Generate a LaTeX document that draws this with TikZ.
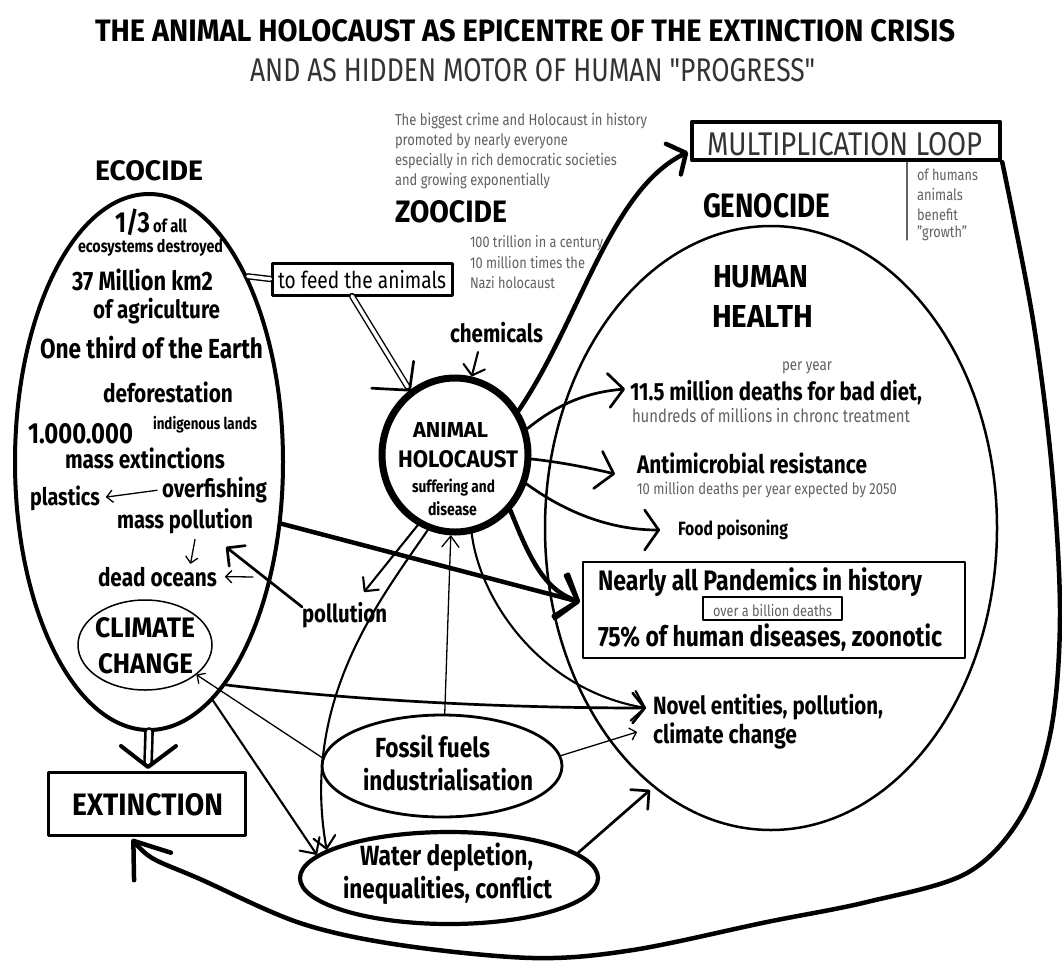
\documentclass[tikz,border=0pt]{standalone}
\usepackage{fontspec}
\setmainfont{Fira Sans}[FakeStretch=0.82]
\newfontfamily\headfont{Fira Sans}[FakeStretch=0.75]
\usetikzlibrary{shapes.geometric,arrows.meta,calc}
\definecolor{inkgrey}{gray}{0.38}
% text fitted to a given width (and optionally height)
\newcommand{\fitw}[2]{\resizebox{#1pt}{!}{#2}}
\newcommand{\fitwh}[3]{\resizebox{#1pt}{#2pt}{#3}}

\begin{document}
\begin{tikzpicture}[x=1pt,y=-1pt,line cap=round,line join=round,
  txt/.style={anchor=base west,inner sep=0pt,outer sep=0pt},
  grey/.style={txt,text=inkgrey},
  oval/.style={ellipse,draw,inner sep=0pt},
  frame/.style={rectangle,draw,inner sep=0pt},
  heavy/.style={line width=4.5pt},
  strong/.style={line width=2.7pt},
  medium/.style={line width=2.1pt},
  fine/.style={line width=1.3pt},
  twin/.style={double,double distance=3.5pt,line width=1.4pt},
  barb/.style 2 args={-{Straight Barb[length=#1pt,width=#2pt,round]}}]

\useasboundingbox (0,0) rectangle (1062,964);
\fill[white] (0,0) rectangle (1062,964);

% ---------- headings ----------
\node[txt] (title) at (95,41) {\fitwh{860}{22}{\headfont\bfseries THE ANIMAL HOLOCAUST AS EPICENTRE OF THE EXTINCTION CRISIS}};
\node[txt,text=black!80] (subtitle) at (250,81) {\fitwh{565}{23}{\headfont AND AS HIDDEN MOTOR OF HUMAN "PROGRESS"}};

% ---------- shapes ----------
\node[oval,line width=4pt,minimum width=268pt,minimum height=536pt] (eco) at (149,462) {};
\node[oval,line width=1.5pt,minimum width=134pt,minimum height=90pt] (cc) at (145,645) {};
\node[oval,line width=7pt,minimum width=146pt,minimum height=154pt] (hol) at (455,455) {};
\node[oval,line width=2.5pt,minimum width=452pt,minimum height=604pt] (gen) at (771,528) {};
\node[oval,line width=2.8pt,minimum width=240pt,minimum height=102pt] (fos) at (442,766) {};
\node[oval,line width=4.2pt,minimum width=298pt,minimum height=92pt] (wat) at (449,878) {};
\node[frame,line width=3pt,minimum width=180pt,minimum height=32pt] (feed) at (362,279) {};
\node[frame,line width=4.5pt,minimum width=308pt,minimum height=38pt] (mult) at (846,141) {};
\node[frame,line width=3pt,minimum width=197pt,minimum height=63pt] (ext) at (146.5,803.5) {};
\node[frame,line width=2.2pt,minimum width=382pt,minimum height=96pt] (pand) at (774,610) {};
\node[frame,line width=1.5pt,minimum width=139pt,minimum height=23pt] (bill) at (772.5,608.5) {};

% ---------- ecocide ----------
\node[txt] (ecohead) at (95,180) {\fitwh{108}{20}{\headfont\bfseries ECOCIDE}};
\node[txt] (third) at (115,232) {\fitw{35}{\bfseries 1/3}};
\node[txt] (ofall) at (153,232) {\fitw{34}{\bfseries of all}};
\node[txt] (ecosys) at (78,252) {\fitw{145}{\bfseries ecosystems destroyed}};
\node[txt] (km) at (72,290) {\fitw{141}{\bfseries 37 Million km2}};
\node[txt] (agri) at (93,318) {\fitw{127}{\bfseries of agriculture}};
\node[txt] (earth) at (40,358) {\fitw{223}{\bfseries One third of the Earth}};
\node[txt] (defor) at (103,402) {\fitw{130}{\bfseries deforestation}};
\node[txt] (indig) at (153,429) {\fitw{104}{\bfseries indigenous lands}};
\node[txt] (million) at (28,443) {\fitw{105}{\bfseries 1.000.000}};
\node[txt] (massext) at (65,468) {\fitw{160}{\bfseries mass extinctions}};
\node[txt] (overfish) at (162,497) {\fitw{105}{\bfseries overfishing}};
\node[txt] (plastics) at (30,505) {\fitw{70}{\bfseries plastics}};
\node[txt] (masspoll) at (117,528) {\fitw{136}{\bfseries mass pollution}};
\node[txt] (deadoc) at (98,586) {\fitw{119}{\bfseries dead oceans}};
\node[txt] (pollution) at (302,622) {\fitw{85}{\bfseries pollution}};
\node[txt] (clim) at (95,637) {\fitwh{100}{20}{\headfont\bfseries CLIMATE}};
\node[txt] (chng) at (98,673) {\fitwh{95}{20}{\headfont\bfseries CHANGE}};
\node[txt] (extword) at (72,815) {\fitwh{151}{22}{\headfont\bfseries EXTINCTION}};
\node[txt] (feedword) at (278,288) {\fitw{168}{to feed the animals}};

% ---------- zoocide ----------
\node[grey] (crime1) at (395,125) {\fitw{252}{The biggest crime and Holocaust in history}};
\node[grey] (crime2) at (395,145) {\fitw{173}{promoted by nearly everyone}};
\node[grey] (crime3) at (395,165) {\fitw{222}{especially in rich democratic societies}};
\node[grey] (crime4) at (395,185) {\fitw{155}{and growing exponentially}};
\node[txt] (zoohead) at (395,222) {\fitwh{112}{22}{\headfont\bfseries ZOOCIDE}};
\node[grey] (tril) at (470,247) {\fitw{133}{100 trillion in a century}};
\node[grey] (times) at (470,268) {\fitw{115}{10 million times the}};
\node[grey] (nazi) at (470,288) {\fitw{85}{Nazi holocaust}};

% ---------- multiplication loop ----------
\node[txt,text=black!80] (multword) at (707,155) {\fitwh{275}{23}{\headfont MULTIPLICATION LOOP}};
\node[grey] (hum) at (917,180) {\fitw{61}{of humans}};
\node[grey] (anim) at (917,200) {\fitw{46}{animals}};
\node[grey] (ben) at (917,220) {\fitw{41}{benefit}};
\node[grey] (grow) at (917,237) {\fitw{50}{"growth"}};

% ---------- genocide ----------
\node[txt] (genhead) at (703,217) {\fitwh{127}{24}{\headfont\bfseries GENOCIDE}};
\node[txt] (human) at (713,287) {\fitwh{95}{22}{\headfont\bfseries HUMAN}};
\node[txt] (health) at (712,327) {\fitwh{101}{22}{\headfont\bfseries HEALTH}};
\node[grey] (peryear) at (782,370) {\fitw{50}{per year}};
\node[txt] (diet) at (630,400) {\fitw{292}{\bfseries 11.5 million deaths for bad diet,}};
\node[grey] (chronic) at (632,422) {\fitw{278}{hundreds of millions in chronc treatment}};
\node[txt] (amr) at (637,473) {\fitw{230}{\bfseries Antimicrobial resistance}};
\node[grey] (amrnote) at (637,494) {\fitw{260}{10 million deaths per year expected by 2050}};
\node[txt] (food) at (678,535) {\fitw{110}{\bfseries Food poisoning}};
\node[txt] (pandword) at (598,590) {\fitw{324}{\bfseries Nearly all Pandemics in history}};
\node[grey] (billword) at (713,616) {\fitw{119}{over a billion deaths}};
\node[txt] (zoon) at (598,646) {\fitw{344}{\bfseries 75\% of human diseases, zoonotic}};
\node[txt] (novel1) at (653,714) {\fitw{230}{\bfseries Novel entities, pollution,}};
\node[txt] (novel2) at (653,743) {\fitw{144}{\bfseries climate change}};

% ---------- centre ----------
\node[txt] (chem) at (450,342) {\fitw{93}{\bfseries chemicals}};
\node[txt] (holA) at (413,437) {\fitwh{75}{15}{\headfont\bfseries ANIMAL}};
\node[txt] (holB) at (398,467) {\fitwh{120}{17}{\headfont\bfseries HOLOCAUST}};
\node[txt] (holC) at (412,492) {\fitw{83}{\bfseries suffering and}};
\node[txt] (holD) at (428,515) {\fitw{49}{\bfseries disease}};
\node[txt] (fosA) at (375,757) {\fitw{115}{\bfseries Fossil fuels}};
\node[txt] (fosB) at (363,790) {\fitw{170}{\bfseries industrialisation}};
\node[txt] (watA) at (360,865) {\fitw{173}{\bfseries Water depletion,}};
\node[txt] (watB) at (343,898) {\fitw{209}{\bfseries inequalities, conflict}};

% ---------- free ends of connectors ----------
\coordinate (multin) at (688,152);
\coordinate (dietin) at (625,389);
\coordinate (amrin) at (615,474);
\coordinate (foodin) at (660,530);
\coordinate (pandin) at (580,602);
\coordinate (novin) at (646,708);
\coordinate (novin2) at (637,732);
\coordinate (genin) at (650,790);
\coordinate (pollin) at (364,592);
\coordinate (masspin) at (226,547);
\coordinate (extin) at (132,839);
\coordinate (exttop) at (148,767);
\coordinate (extwingL) at (121,746);
\coordinate (extwingR) at (176,746);
\coordinate (feedfoot) at (352,296);
\coordinate (chemtail) at (478,352);
\coordinate (ocsrc) at (253,577);
\coordinate (sepend) at (907,240);

% ---------- connectors ----------
% ecocide feeds the animals
\draw[twin] (eco.62) -- (feed.west);
\draw[twin,shorten >=4pt] (feedfoot) -- (hol.125);
\draw[strong] ([xshift=-38pt,yshift=2pt]hol.125) -- (hol.125) -- ([xshift=4pt,yshift=29pt]hol.125);
% ecocide leads to extinction
\draw[twin,line width=2.6pt,double distance=4.5pt,shorten >=5pt] (eco.south) -- (exttop);
\draw[line width=4pt] (extwingL) -- (exttop) -- (extwingR);
% multiplication loop
\draw[heavy,barb={14}{34}] (hol.35) .. controls (580,320) and (610,190) .. (multin);
\draw[heavy,barb={32}{46}] plot[smooth,tension=0.55] coordinates {(mult.south east) (1033,320) (1052,470) (1060,615) (1051,730) (1022,815) (967,873) (867,902) (767,922) (633,950) (533,958) (400,945) (300,923) (200,879) (152,858) (extin)};
\draw[fine,draw=inkgrey] (mult.south -| sepend) -- (sepend);
% animal holocaust to human health
\draw[strong,barb={15}{34}] (hol.20) .. controls (560,402) and (590,392) .. (dietin);
\draw[strong,barb={16}{38}] (hol.-3) .. controls (560,462) and (590,468) .. (amrin);
\draw[strong,barb={14}{40}] (hol.-22) .. controls (565,512) and (610,530) .. (foodin);
\draw[heavy,barb={18}{44}] (eco.-25) -- (pandin);
\draw[heavy,barb={18}{44}] (hol.-45) .. controls (530,560) and (545,590) .. (pandin);
\draw[medium,barb={12}{30}] (hol.-78) .. controls (480,600) and (540,690) .. (novin);
\draw[strong,barb={12}{30}] (eco.-71) .. controls (350,700) and (500,708) .. (novin);
% fossil fuels
\draw[fine,barb={6}{12}] (fos.5) -- (novin2);
\draw[fine,barb={6}{12}] (fos.176) -- (cc.-30);
\draw[fine,barb={11}{17}] (fos.87) -- (hol.-93);
% pollution and water
\draw[medium,barb={10}{20}] (hol.-118) -- (pollin);
\draw[medium,barb={12}{22}] (hol.-110) .. controls (380,600) and (300,700) .. (wat.167);
\draw[medium,barb={12}{24}] (eco.-75) -- (wat.170);
\draw[strong,barb={13}{26}] (wat.11) -- (genin);
\draw[strong,barb={13}{26}] ([yshift=-5pt]pollution.north west) -- (masspin);
\draw[medium,barb={9}{22}] (chemtail) -- (hol.78);
% inside the ecocide oval
\draw[fine,barb={6}{12},shorten <=5pt,shorten >=6pt] (overfish.west) -- (plastics.east);
\draw[fine,barb={6}{12}] ([xshift=10pt,yshift=-6pt]masspoll.south) -- ([xshift=33pt,yshift=3pt]deadoc.north);
\draw[fine,barb={6}{12}] (ocsrc) -- ([xshift=8pt]deadoc.east);

\end{tikzpicture}
\end{document}
